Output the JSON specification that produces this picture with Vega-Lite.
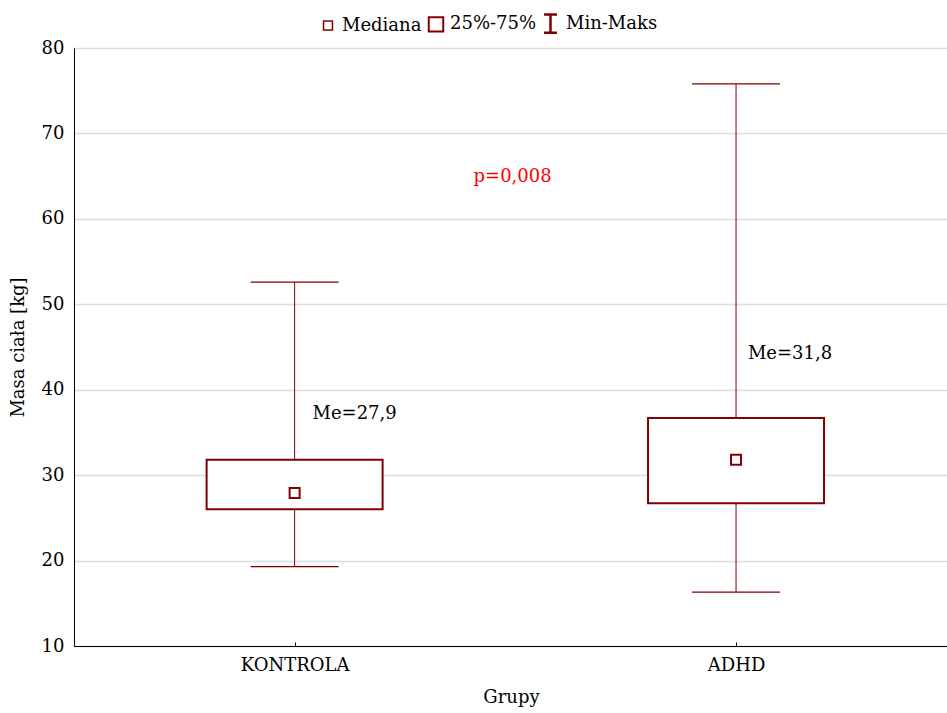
{
  "$schema": "https://vega.github.io/schema/vega-lite/v6.json",
  "width": 874,
  "height": 598,
  "autosize": {"type": "none"},
  "padding": {"left": 74, "top": 48, "right": 0, "bottom": 67},
  "background": "white",
  "config": {
    "font": "DejaVu Serif",
    "view": {"stroke": "black", "strokeWidth": 1},
    "axis": {
      "labelFont": "DejaVu Serif",
      "titleFont": "DejaVu Serif",
      "labelFontSize": 18,
      "titleFontSize": 18,
      "titleFontWeight": "normal",
      "labelColor": "black",
      "titleColor": "black",
      "domainColor": "black"
    },
    "legend": {
      "labelFont": "DejaVu Serif",
      "labelFontSize": 18,
      "labelColor": "black"
    }
  },
  "datasets": {
    "stats": [
      {"grupa": "KONTROLA", "min": 19.3, "q1": 26.0, "median": 27.9, "q3": 31.8, "max": 52.6},
      {"grupa": "ADHD", "min": 16.3, "q1": 26.7, "median": 31.8, "q3": 36.7, "max": 75.8}
    ],
    "notes": [
      {"grupa": "KONTROLA", "y": 37.2, "label": "Me=27,9", "kind": "me1"},
      {"grupa": "ADHD", "y": 44.2, "label": "Me=31,8", "kind": "me2"},
      {"grupa": "KONTROLA", "y": 64.9, "label": "p=0,008", "kind": "p"}
    ],
    "legenda": [
      {"item": "Mediana"},
      {"item": "25%-75%"},
      {"item": "Min-Maks"}
    ]
  },
  "encoding": {
    "x": {
      "field": "grupa",
      "type": "nominal",
      "sort": ["KONTROLA", "ADHD"],
      "scale": {"type": "point", "padding": 0.49, "align": 0.51, "domain": ["KONTROLA", "ADHD"]},
      "axis": {
        "title": "Grupy",
        "labelAngle": 0,
        "tickSize": -4,
        "tickColor": "black",
        "labelPadding": 14,
        "titlePadding": 14,
        "grid": false,
        "domain": true
      }
    }
  },
  "layer": [
    {
      "data": {"name": "stats"},
      "mark": {"type": "rule", "color": "#800000", "strokeWidth": 1},
      "encoding": {
        "y": {
          "field": "min",
          "type": "quantitative",
          "scale": {"domain": [10, 80], "nice": false, "zero": false},
          "axis": {
            "title": "Masa ciała [kg]",
            "values": [10, 20, 30, 40, 50, 60, 70, 80],
            "ticks": false,
            "labelPadding": 10,
            "titlePadding": 14,
            "grid": true,
            "gridColor": "#dcdcdc",
            "gridWidth": 1.5
          }
        },
        "y2": {"field": "max"}
      }
    },
    {
      "data": {"name": "stats"},
      "mark": {"type": "tick", "color": "#800000", "opacity": 1, "size": 88, "thickness": 1.2, "orient": "horizontal"},
      "encoding": {"y": {"field": "min", "type": "quantitative"}}
    },
    {
      "data": {"name": "stats"},
      "mark": {"type": "tick", "color": "#800000", "opacity": 1, "size": 88, "thickness": 1.2, "orient": "horizontal"},
      "encoding": {"y": {"field": "max", "type": "quantitative"}}
    },
    {
      "data": {"name": "stats"},
      "mark": {"type": "bar", "width": 176, "fill": "white", "stroke": "#800000", "strokeWidth": 2},
      "encoding": {
        "y": {"field": "q1", "type": "quantitative"},
        "y2": {"field": "q3"}
      }
    },
    {
      "data": {"name": "stats"},
      "mark": {"type": "point", "shape": "square", "size": 100, "filled": false, "color": "#800000", "opacity": 1, "strokeWidth": 2},
      "encoding": {"y": {"field": "median", "type": "quantitative"}}
    },
    {
      "data": {"name": "notes"},
      "transform": [{"filter": "datum.kind === 'me1'"}],
      "mark": {"type": "text", "fontSize": 18, "font": "DejaVu Serif", "color": "black", "dx": 60, "baseline": "middle"},
      "encoding": {"y": {"field": "y", "type": "quantitative"}, "text": {"field": "label"}}
    },
    {
      "data": {"name": "notes"},
      "transform": [{"filter": "datum.kind === 'me2'"}],
      "mark": {"type": "text", "fontSize": 18, "font": "DejaVu Serif", "color": "black", "dx": 54, "baseline": "middle"},
      "encoding": {"y": {"field": "y", "type": "quantitative"}, "text": {"field": "label"}}
    },
    {
      "data": {"name": "notes"},
      "transform": [{"filter": "datum.kind === 'p'"}],
      "mark": {"type": "text", "fontSize": 18, "font": "DejaVu Serif", "color": "#ff0000", "dx": 218, "baseline": "middle"},
      "encoding": {"y": {"field": "y", "type": "quantitative"}, "text": {"field": "label"}}
    },
    {
      "data": {"name": "legenda"},
      "mark": {"type": "point", "opacity": 0, "filled": false, "color": "#800000"},
      "encoding": {
        "x": {"value": 0},
        "y": {"value": 0},
        "shape": {
          "field": "item",
          "type": "nominal",
          "scale": {
            "domain": ["Mediana", "25%-75%", "Min-Maks"],
            "range": ["square", "square", "M-0.7,-1H0.7M0,-1V1M-0.7,1H0.7"]
          },
          "legend": {
            "title": null,
            "orient": "none",
            "direction": "horizontal",
            "legendX": 245,
            "legendY": -35,
            "symbolOpacity": 1,
            "symbolStrokeColor": "#800000",
            "symbolFillColor": "white",
            "columnPadding": 2,
            "labelOffset": 5
          }
        },
        "size": {
          "field": "item",
          "type": "nominal",
          "scale": {"domain": ["Mediana", "25%-75%", "Min-Maks"], "range": [80, 340, 340]}
        },
        "strokeWidth": {
          "field": "item",
          "type": "nominal",
          "scale": {"domain": ["Mediana", "25%-75%", "Min-Maks"], "range": [1.5, 2.5, 1]}
        }
      }
    }
  ]
}
